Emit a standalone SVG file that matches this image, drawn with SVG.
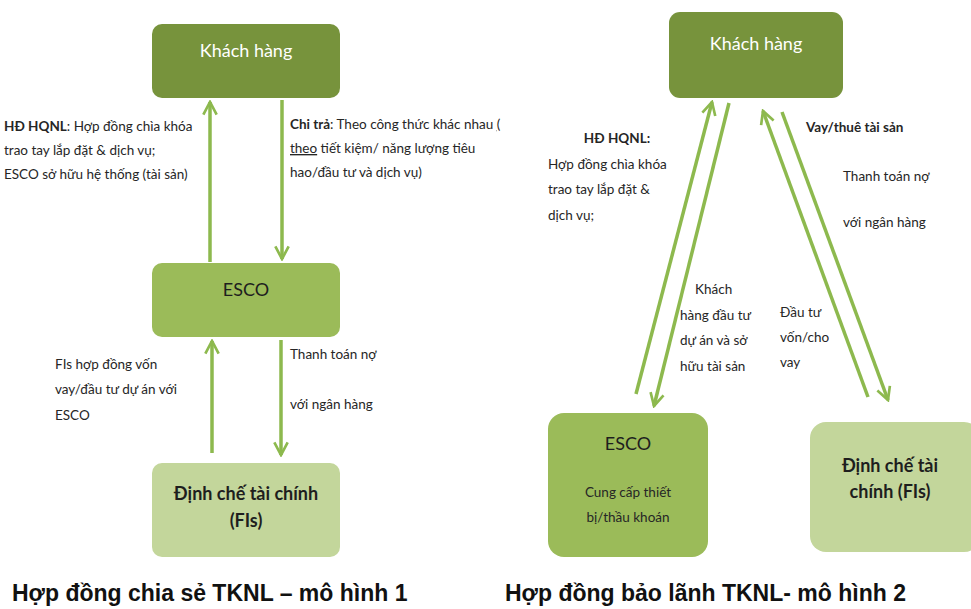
<svg xmlns="http://www.w3.org/2000/svg" width="971" height="609" viewBox="0 0 971 609">
<defs>
<style>
.dk{fill:#77933C}
.md{fill:#9BBB59}
.lt{fill:#C3D69B}
.con{stroke:#8DB94E;stroke-width:3.5;fill:none;marker-end:url(#ah)}
.t{font-family:Lato,"Open Sans","Noto Sans",sans-serif;font-size:13.5px;fill:#262626}
.b{font-weight:bold}
.nt{font-family:Lato,"Open Sans","Noto Sans",sans-serif;font-size:18px;text-anchor:middle}
.big{font-family:Lato,"Open Sans","Noto Sans",sans-serif;font-size:18px;font-weight:bold;text-anchor:middle;fill:#1e1e1e}
.ttl{font-family:"Liberation Sans",Arial,sans-serif;font-size:23px;font-weight:bold;fill:#111}
</style>
<marker id="ah" viewBox="0 0 12 12" refX="10.5" refY="6" markerWidth="16" markerHeight="16" markerUnits="userSpaceOnUse" orient="auto">
<path d="M1,1 L10.5,6 L1,11" fill="none" stroke="#8DB94E" stroke-width="2"/>
</marker>
</defs>
<rect width="971" height="609" fill="#fff"/>

<g id="connectors">
<line class="con" x1="210" y1="262" x2="210" y2="102"/>
<line class="con" x1="282" y1="100" x2="282" y2="259"/>
<line class="con" x1="212" y1="453" x2="212" y2="341"/>
<line class="con" x1="281" y1="340" x2="281" y2="455"/>
<line class="con" x1="636" y1="394" x2="712" y2="102"/>
<line class="con" x1="729" y1="103" x2="654" y2="406"/>
<line class="con" x1="868" y1="397" x2="763" y2="111"/>
<line class="con" x1="782" y1="112" x2="888" y2="400"/>
</g>

<g id="kh1">
<rect class="dk" x="152" y="24" width="188" height="74" rx="10"/>
<text class="nt" x="246" y="57" fill="#fff">Khách hàng</text>
</g>
<g id="esco1">
<rect class="md" x="152" y="263" width="188" height="74" rx="10"/>
<text class="nt" x="246" y="296" fill="#1e1e1e">ESCO</text>
</g>
<g id="fi1">
<rect class="lt" x="152" y="463" width="188" height="94" rx="10"/>
<text class="big" x="246" y="500">Định chế tài chính</text>
<text class="big" x="246" y="527">(FIs)</text>
</g>

<g id="kh2">
<rect class="dk" x="669" y="12" width="174" height="86" rx="11"/>
<text class="nt" x="756" y="50" fill="#fff">Khách hàng</text>
</g>
<g id="esco2">
<rect class="md" x="548" y="413" width="160" height="144" rx="16"/>
<text class="nt" x="628" y="450" fill="#1e1e1e">ESCO</text>
<text class="t" x="628" y="497" text-anchor="middle">Cung cấp thiết</text>
<text class="t" x="628" y="522" text-anchor="middle">bị/thầu khoán</text>
</g>
<g id="fi2">
<rect class="lt" x="810" y="422" width="170" height="130" rx="16"/>
<text class="big" x="890" y="472">Định chế tài</text>
<text class="big" x="890" y="498">chính (FIs)</text>
</g>

<g id="labels">
<text class="t" x="4" y="131"><tspan class="b">HĐ HQNL</tspan>: Hợp đồng chìa khóa</text>
<text class="t" x="4" y="155">trao tay lắp đặt &amp; dịch vụ;</text>
<text class="t" x="4" y="179">ESCO sở hữu hệ thống (tài sản)</text>

<text class="t" x="290" y="129"><tspan class="b">Chi trả</tspan>: Theo công thức khác nhau <tspan text-decoration="underline" style="text-decoration-color:#3333cc">(</tspan></text>
<text class="t" x="290" y="153"><tspan text-decoration="underline" style="text-decoration-color:#3333cc">theo</tspan> tiết kiệm/ năng lượng tiêu</text>
<text class="t" x="290" y="177">hao/đầu tư và dịch vụ)</text>

<text class="t" x="55" y="369">FIs hợp đồng vốn</text>
<text class="t" x="55" y="394">vay/đầu tư dự án với</text>
<text class="t" x="55" y="420">ESCO</text>

<text class="t" x="290" y="359">Thanh toán nợ</text>
<text class="t" x="290" y="409">với ngân hàng</text>

<text class="t b" x="617" y="143" text-anchor="middle">HĐ HQNL:</text>
<text class="t" x="548" y="169">Hợp đồng chìa khóa</text>
<text class="t" x="548" y="194">trao tay lắp đặt &amp;</text>
<text class="t" x="548" y="220">dịch vụ;</text>

<text class="t b" x="806" y="132">Vay/thuê tài sản</text>
<text class="t" x="843" y="181">Thanh toán nợ</text>
<text class="t" x="843" y="227">với ngân hàng</text>

<text class="t" x="695" y="294">Khách</text>
<text class="t" x="680" y="320">hàng đầu tư</text>
<text class="t" x="680" y="345">dự án và sở</text>
<text class="t" x="680" y="371">hữu tài sản</text>

<text class="t" x="780" y="317">Đầu tư</text>
<text class="t" x="780" y="342">vốn/cho</text>
<text class="t" x="780" y="367">vay</text>
</g>

<g id="titles">
<text class="ttl" x="12" y="601">Hợp đồng chia sẻ TKNL – mô hình 1</text>
<text class="ttl" x="505" y="601">Hợp đồng bảo lãnh TKNL- mô hình 2</text>
</g>
</svg>
